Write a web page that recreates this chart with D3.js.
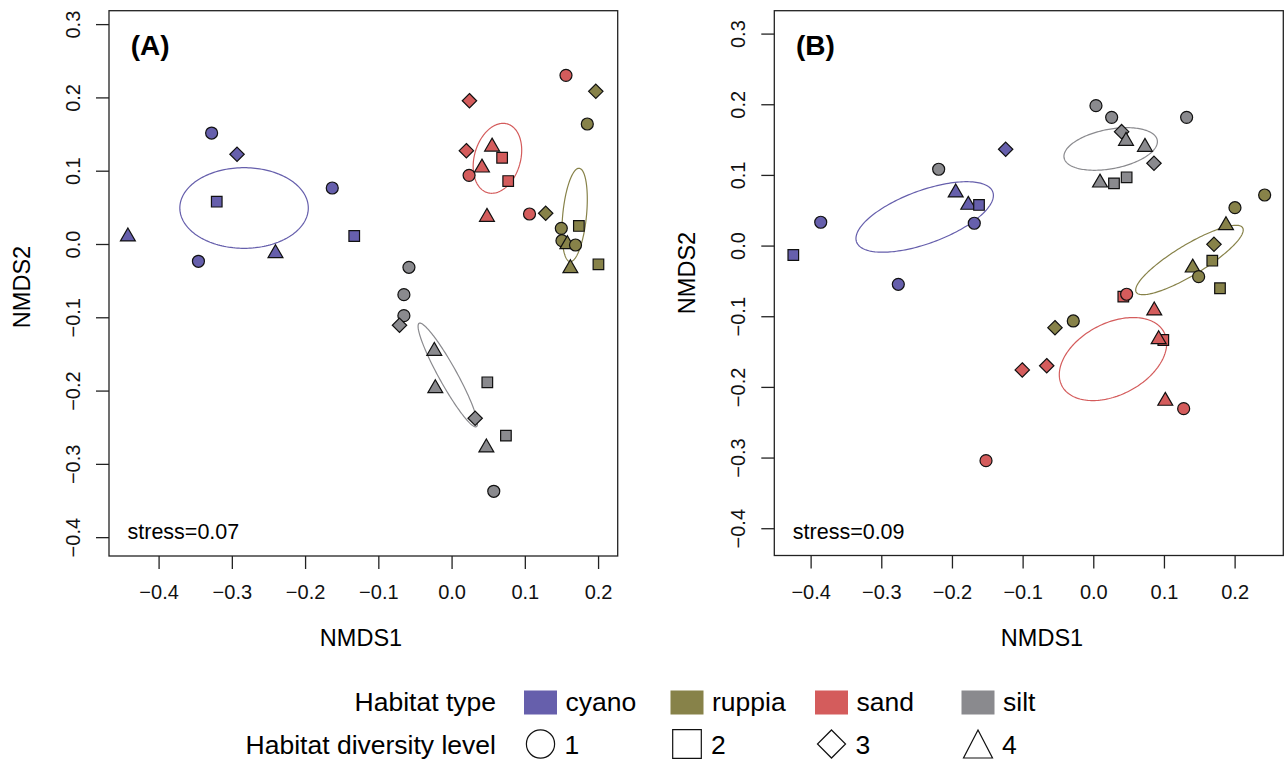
<!DOCTYPE html>
<html>
<head>
<meta charset="utf-8">
<script src="https://cdn.jsdelivr.net/npm/d3@7"></script>
<style>
  body { margin: 0; background: #fff; }
  svg { display: block; font-family: "Liberation Sans", Arial, sans-serif; }
</style>
</head>
<body>
<svg id="chart" width="1285" height="760"></svg>
<script>
const habitats = ["cyano", "ruppia", "sand", "silt"];
const habitatColors = ["#665fac", "#878249", "#d45c5c", "#8a8a8e"];
const levels = [1, 2, 3, 4];
const xTicks = [-0.4, -0.3, -0.2, -0.1, 0.0, 0.1, 0.2];
const yTicks = [-0.4, -0.3, -0.2, -0.1, 0.0, 0.1, 0.2, 0.3];

// panel A points
const aHab = ["cyano","cyano","cyano","cyano","cyano","cyano","cyano","cyano",
  "ruppia","ruppia","ruppia","ruppia","ruppia","ruppia","ruppia","ruppia","ruppia","ruppia",
  "sand","sand","sand","sand","sand","sand","sand","sand","sand","sand",
  "silt","silt","silt","silt","silt","silt","silt","silt","silt","silt","silt"];
const aLevel = [1,3,2,4,1,2,4,1,
  3,1,3,1,2,1,4,1,4,2,
  1,3,3,1,4,2,4,2,4,1,
  1,1,1,3,4,4,2,3,2,4,1];
const aX = [-0.3276,-0.2929,-0.3206,-0.4419,-0.1629,-0.1329,-0.2404,-0.3456,
  0.1969,0.1853,0.1285,0.1498,0.1738,0.1507,0.1581,0.1692,0.1622,0.2005,
  0.1562,0.0244,0.0202,0.0239,0.0553,0.0690,0.0415,0.0773,0.0483,0.1064,
  -0.0582,-0.0651,-0.0651,-0.0711,-0.0236,-0.0222,0.0488,0.0322,0.0742,0.0475,0.0576];
const aY = [0.1514,0.1224,0.0577,0.0100,0.0764,0.0109,-0.0127,-0.0236,
  0.2083,0.1637,0.0419,0.0214,0.0246,0.0045,-0.0004,-0.0014,-0.0332,-0.0277,
  0.2301,0.1955,0.1273,0.0937,0.1327,0.1177,0.1041,0.0859,0.0368,0.0409,
  -0.0318,-0.0691,-0.0978,-0.1109,-0.1460,-0.1969,-0.1887,-0.2378,-0.2615,-0.2779,-0.3374];

// panel A ellipses (order of habitats)
const aEllX = [-0.2833, 0.1680, 0.0626, -0.0052];
const aEllY = [0.0491, 0.0396, 0.1169, -0.1787];
const aEllA = [0.0877, 0.0640, 0.0488, 0.0806];
const aEllB = [0.0550, 0.0162, 0.0315, 0.0123];
const aEllAngle = [0, 84.4, 74, 119];

// panel B points
const bHab = ["cyano","cyano","cyano","cyano","cyano","cyano","cyano","cyano",
  "silt","silt","silt","silt","silt","silt","silt","silt","silt","silt","silt",
  "ruppia","ruppia","ruppia","ruppia","ruppia","ruppia","ruppia","ruppia","ruppia","ruppia",
  "sand","sand","sand","sand","sand","sand","sand","sand","sand","sand"];
const bLevel = [2,1,1,3,4,4,2,1,
  1,1,1,1,3,4,4,3,4,2,2,
  1,1,4,3,2,4,1,2,3,1,
  2,1,4,2,4,3,3,4,1,1];
const bX = [-0.4245,-0.3857,-0.2759,-0.1240,-0.1947,-0.1769,-0.1617,-0.1684,
  0.0038,0.0260,0.1321,-0.2188,0.0401,0.0463,0.0731,0.0859,0.0095,0.0293,0.0472,
  0.2425,0.2005,0.1878,0.1708,0.1684,0.1407,0.1491,0.1793,-0.0542,-0.0283,
  0.0425,0.0472,0.0863,0.0991,0.0925,-0.0659,-0.1005,0.1019,0.1279,-0.1518];
const bY = [-0.0133,0.0330,-0.0548,0.1363,0.0749,0.0575,0.0575,0.0316,
  0.1980,0.1815,0.1815,0.1080,0.1612,0.1480,0.1395,0.1165,0.0890,0.0881,0.0966,
  0.0716,0.0536,0.0287,0.0018,-0.0214,-0.0313,-0.0440,-0.0604,-0.1162,-0.1067,
  -0.0723,-0.0689,-0.0921,-0.1336,-0.1326,-0.1700,-0.1760,-0.2199,-0.2308,-0.3044];

// panel B ellipses
const bEllX = [-0.2386, 0.1361, 0.0279, 0.0246];
const bEllY = [0.0405, -0.0204, -0.1606, 0.1367];
const bEllA = [0.1027, 0.0880, 0.0816, 0.0671];
const bEllB = [0.0374, 0.0214, 0.0507, 0.0279];
const bEllAngle = [20.2, 31.2, 27.7, 10.8];

const svg = d3.select("#chart");
const color = d3.scaleOrdinal().domain(habitats).range(habitatColors);

// marker outline for each diversity level, size factor k
function shape(level, k) {
  if (level === 1) {
    const r = 6 * k;
    return `M${r},0A${r},${r} 0 1,1 ${-r},0A${r},${r} 0 1,1 ${r},0Z`;
  }
  if (level === 2) {
    const h = 5.3 * k;
    return `M${-h},${-h}H${h}V${h}H${-h}Z`;
  }
  if (level === 3) {
    const h = 7.2 * k;
    return `M0,${-h}L${h},0L0,${h}L${-h},0Z`;
  }
  const r = 8.6 * k, w = r * 0.866;
  return `M0,${-r}L${w},${r / 2}L${-w},${r / 2}Z`;
}

function panel(opt) {
  const x = d3.scaleLinear().domain(opt.xDomain).range([opt.left, opt.right]);
  const y = d3.scaleLinear().domain(opt.yDomain).range([opt.bottom, opt.top]);
  const g = svg.append("g");

  // axes
  const xAxis = g.append("g")
    .attr("transform", `translate(0,${opt.bottom})`)
    .call(d3.axisBottom(x).tickValues(xTicks).tickFormat(d3.format(".1f")).tickSize(13).tickPadding(16));
  const yAxis = g.append("g")
    .attr("transform", `translate(${opt.left},0)`)
    .call(d3.axisLeft(y).tickValues(yTicks).tickFormat(d3.format(".1f")).tickSize(13));
  [xAxis, yAxis].forEach(a => {
    a.select(".domain").remove();
    a.selectAll("line").attr("stroke", "#222").attr("stroke-width", 1.3);
    a.selectAll("text").attr("font-size", 20).attr("fill", "#111")
      .attr("font-family", "Liberation Sans, Arial, sans-serif");
  });
  yAxis.selectAll("text")
    .attr("x", null).attr("dy", null)
    .attr("text-anchor", "middle")
    .attr("transform", "translate(-29,0) rotate(-90)");

  // box
  g.append("rect")
    .attr("x", opt.left).attr("y", opt.top)
    .attr("width", opt.right - opt.left).attr("height", opt.bottom - opt.top)
    .attr("fill", "none").attr("stroke", "#222").attr("stroke-width", 1.3);

  // ellipses
  const line = d3.line().curve(d3.curveLinearClosed);
  const t = d3.range(0, 2 * Math.PI, Math.PI / 90);
  habitats.forEach((h, i) => {
    const th = opt.ellAngle[i] * Math.PI / 180;
    const pts = t.map(s => {
      const ex = opt.ellA[i] * Math.cos(s), ey = opt.ellB[i] * Math.sin(s);
      return [x(opt.ellX[i] + ex * Math.cos(th) - ey * Math.sin(th)),
              y(opt.ellY[i] + ex * Math.sin(th) + ey * Math.cos(th))];
    });
    g.append("path").attr("d", line(pts))
      .attr("fill", "none").attr("stroke", color(h)).attr("stroke-width", 1.2);
  });

  // points
  g.selectAll(".pt")
    .data(d3.range(opt.hab.length))
    .enter()
    .append("path")
    .attr("class", "pt")
    .attr("transform", i => `translate(${x(opt.xs[i])},${y(opt.ys[i])})`)
    .attr("d", i => shape(opt.level[i], 1))
    .attr("fill", i => color(opt.hab[i]))
    .attr("stroke", "#111")
    .attr("stroke-width", 1.2);

  g.append("text")
    .attr("x", opt.left + opt.tagDx).attr("y", 55)
    .attr("font-size", 28).attr("font-weight", "bold")
    .text(opt.tag);

  g.append("text")
    .attr("x", opt.left + 18.5).attr("y", 539)
    .attr("font-size", 21.5)
    .text(opt.stress);

  g.append("text")
    .attr("x", opt.xlabX).attr("y", 645.5)
    .attr("text-anchor", "middle").attr("font-size", 23.5)
    .text("NMDS1");

  g.append("text")
    .attr("transform", `translate(${opt.left - 79},${opt.ylabY}) rotate(-90)`)
    .attr("text-anchor", "middle").attr("font-size", 23.5)
    .text("NMDS2");
}

panel({
  left: 109, right: 617.7, top: 10.7, bottom: 556,
  xDomain: [-0.4677, 0.2268], yDomain: [-0.4257, 0.3183],
  hab: aHab, level: aLevel, xs: aX, ys: aY,
  ellX: aEllX, ellY: aEllY, ellA: aEllA, ellB: aEllB, ellAngle: aEllAngle,
  tag: "(A)", tagDx: 21.7, stress: "stress=0.07", xlabX: 361, ylabY: 287
});

panel({
  left: 774.3, right: 1283.3, top: 10.7, bottom: 555.5,
  xDomain: [-0.4514, 0.2689], yDomain: [-0.4386, 0.3324],
  hab: bHab, level: bLevel, xs: bX, ys: bY,
  ellX: bEllX, ellY: bEllY, ellA: bEllA, ellB: bEllB, ellAngle: bEllAngle,
  tag: "(B)", tagDx: 21.7, stress: "stress=0.09", xlabX: 1042, ylabY: 273
});

// legend
const legCols = [524, 670.5, 815, 961.5];
const leg = svg.append("g").attr("font-size", 26.5);

leg.append("text").attr("x", 496).attr("y", 711).attr("text-anchor", "end").text("Habitat type");
leg.append("text").attr("x", 496).attr("y", 754).attr("text-anchor", "end").text("Habitat diversity level");

habitats.forEach((h, i) => {
  leg.append("rect")
    .attr("x", legCols[i]).attr("y", 690.5)
    .attr("width", 33).attr("height", 24)
    .attr("fill", color(h));
  leg.append("text").attr("x", legCols[i] + 41.5).attr("y", 711).text(h);
});

levels.forEach((lv, i) => {
  const cx = legCols[i] + 16.5;
  const sym = leg.append("path")
    .attr("fill", "#fff").attr("stroke", "#111").attr("stroke-width", 1.2);
  if (lv === 4) {
    // legend triangle is narrower than the plot marker
    sym.attr("d", `M${cx},730L${cx + 14.5},758L${cx - 14.5},758Z`);
  } else {
    sym.attr("transform", `translate(${cx},744)`)
      .attr("d", shape(lv, lv === 1 ? 2.35 : lv === 2 ? 2.7 : 1.95));
  }
  leg.append("text").attr("x", legCols[i] + 40.5).attr("y", 754).text(lv);
});
</script>
</body>
</html>
